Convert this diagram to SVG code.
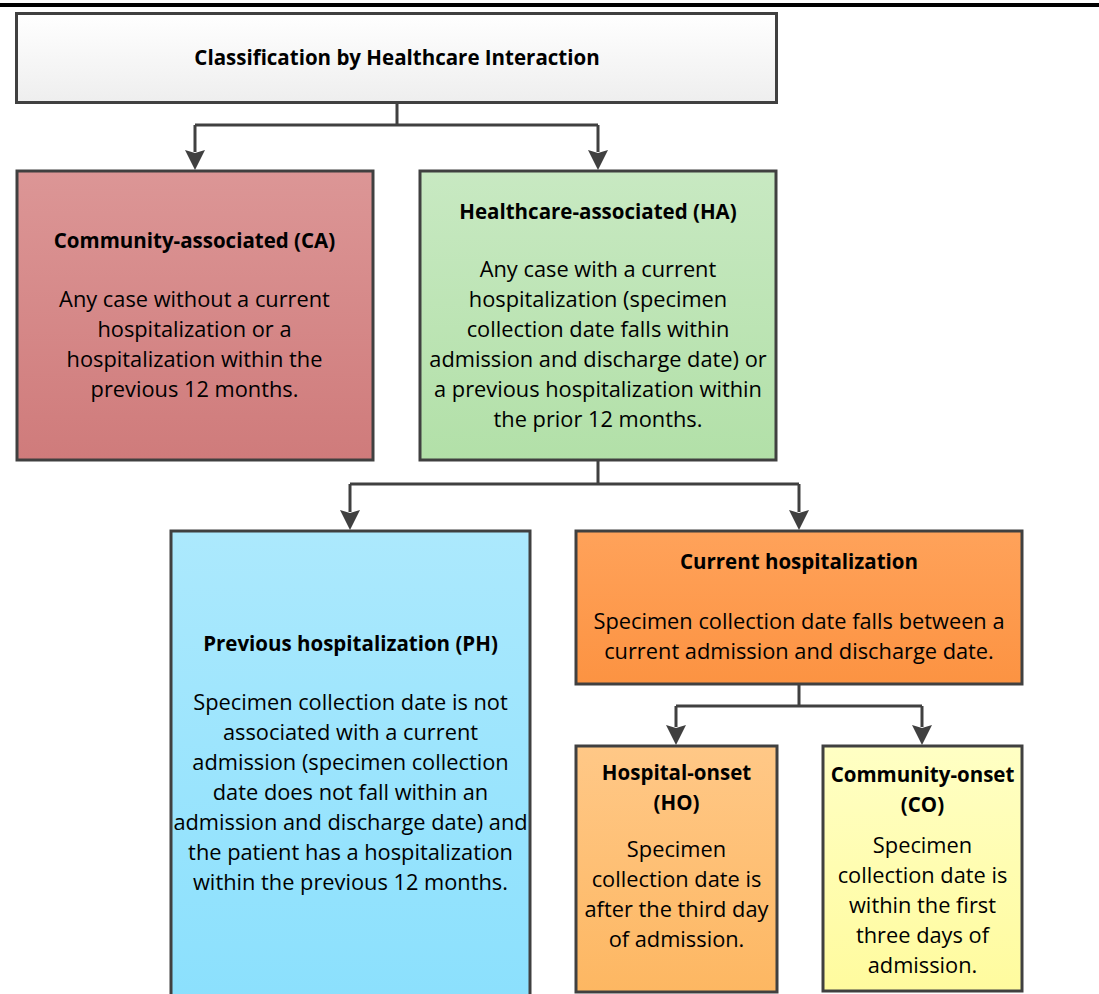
<svg xmlns="http://www.w3.org/2000/svg" width="1099" height="994" viewBox="0 0 1099 994">
<style>
.box{stroke:#404040;stroke-width:3}
.t{font-family:"Open Sans","Liberation Sans",sans-serif;font-size:21.8px;fill:#000;text-anchor:middle}
.b{font-weight:bold;font-size:20.5px}
.c{fill:none;stroke:#404040;stroke-width:3}
.a{fill:#404040}
</style>
<defs>
<linearGradient id="gTop" x1="0" y1="0" x2="0" y2="1"><stop offset="0" stop-color="#ffffff"/><stop offset="1" stop-color="#eeeeee"/></linearGradient>
<linearGradient id="gCA" x1="0" y1="0" x2="0" y2="1"><stop offset="0" stop-color="#dc9696"/><stop offset="1" stop-color="#cf7b7b"/></linearGradient>
<linearGradient id="gHA" x1="0" y1="0" x2="0" y2="1"><stop offset="0" stop-color="#c8e9c2"/><stop offset="1" stop-color="#b2e0a8"/></linearGradient>
<linearGradient id="gPH" x1="0" y1="0" x2="0" y2="1"><stop offset="0" stop-color="#ace9fd"/><stop offset="1" stop-color="#8be0fd"/></linearGradient>
<linearGradient id="gCH" x1="0" y1="0" x2="0" y2="1"><stop offset="0" stop-color="#ffa25a"/><stop offset="1" stop-color="#fc9342"/></linearGradient>
<linearGradient id="gHO" x1="0" y1="0" x2="0" y2="1"><stop offset="0" stop-color="#ffc887"/><stop offset="1" stop-color="#fdb762"/></linearGradient>
<linearGradient id="gCO" x1="0" y1="0" x2="0" y2="1"><stop offset="0" stop-color="#ffffc4"/><stop offset="1" stop-color="#fffb9e"/></linearGradient>
</defs>
<rect x="0" y="3" width="1099" height="4" fill="#000"/>
<g id="connectors">
<path class="c" d="M397,103 V125 M195,125 H598"/>
<path class="c" d="M195,125 V152"/>
<path class="a" d="M185,150 L195,153 L205,150 L195,170 Z"/>
<path class="c" d="M598,125 V152"/>
<path class="a" d="M588,150 L598,153 L608,150 L598,170 Z"/>
<path class="c" d="M598,461 V484 M350,484 H799"/>
<path class="c" d="M350,484 V512"/>
<path class="a" d="M340,510 L350,513 L360,510 L350,530 Z"/>
<path class="c" d="M799,484 V512"/>
<path class="a" d="M789,510 L799,513 L809,510 L799,530 Z"/>
<path class="c" d="M799,685 V706 M676,706 H922"/>
<path class="c" d="M676,706 V727"/>
<path class="a" d="M666,725 L676,728 L686,725 L676,745 Z"/>
<path class="c" d="M922,706 V727"/>
<path class="a" d="M912,725 L922,728 L932,725 L922,745 Z"/>
</g>
<g id="top">
<rect class="box" x="16.5" y="13.5" width="760" height="89" fill="url(#gTop)"/>
<text class="t b" x="397" y="65">Classification by Healthcare Interaction</text>
</g>
<g id="ca">
<rect class="box" x="17" y="171" width="356" height="289" fill="url(#gCA)"/>
<text class="t b" x="194.5" y="248">Community-associated (CA)</text>
<text class="t" x="194.5" y="307">Any case without a current</text>
<text class="t" x="194.5" y="337">hospitalization or a</text>
<text class="t" x="194.5" y="367">hospitalization within the</text>
<text class="t" x="194.5" y="397">previous 12 months.</text>
</g>
<g id="ha">
<rect class="box" x="420" y="171" width="356" height="289" fill="url(#gHA)"/>
<text class="t b" x="598" y="219">Healthcare-associated (HA)</text>
<text class="t" x="598" y="277">Any case with a current</text>
<text class="t" x="598" y="307">hospitalization (specimen</text>
<text class="t" x="598" y="337">collection date falls within</text>
<text class="t" x="598" y="367">admission and discharge date) or</text>
<text class="t" x="598" y="397">a previous hospitalization within</text>
<text class="t" x="598" y="427">the prior 12 months.</text>
</g>
<g id="ph">
<rect class="box" x="171" y="531" width="359" height="470" fill="url(#gPH)"/>
<text class="t b" x="350.5" y="651">Previous hospitalization (PH)</text>
<text class="t" x="350.5" y="710">Specimen collection date is not</text>
<text class="t" x="350.5" y="740">associated with a current</text>
<text class="t" x="350.5" y="770">admission (specimen collection</text>
<text class="t" x="350.5" y="800">date does not fall within an</text>
<text class="t" x="350.5" y="830">admission and discharge date) and</text>
<text class="t" x="350.5" y="860">the patient has a hospitalization</text>
<text class="t" x="350.5" y="890">within the previous 12 months.</text>
</g>
<g id="current">
<rect class="box" x="576" y="531" width="446" height="153" fill="url(#gCH)"/>
<text class="t b" x="799" y="569">Current hospitalization</text>
<text class="t" x="799" y="629">Specimen collection date falls between a</text>
<text class="t" x="799" y="659">current admission and discharge date.</text>
</g>
<g id="ho">
<rect class="box" x="576" y="746" width="201" height="246" fill="url(#gHO)"/>
<text class="t b" x="676.5" y="780">Hospital-onset</text>
<text class="t b" x="676.5" y="810">(HO)</text>
<text class="t" x="676.5" y="857">Specimen</text>
<text class="t" x="676.5" y="887">collection date is</text>
<text class="t" x="676.5" y="917">after the third day</text>
<text class="t" x="676.5" y="947">of admission.</text>
</g>
<g id="co">
<rect class="box" x="823" y="746" width="199" height="245" fill="url(#gCO)"/>
<text class="t b" x="922.5" y="782">Community-onset</text>
<text class="t b" x="922.5" y="812">(CO)</text>
<text class="t" x="922.5" y="853">Specimen</text>
<text class="t" x="922.5" y="883">collection date is</text>
<text class="t" x="922.5" y="913">within the first</text>
<text class="t" x="922.5" y="943">three days of</text>
<text class="t" x="922.5" y="973">admission.</text>
</g>
</svg>
